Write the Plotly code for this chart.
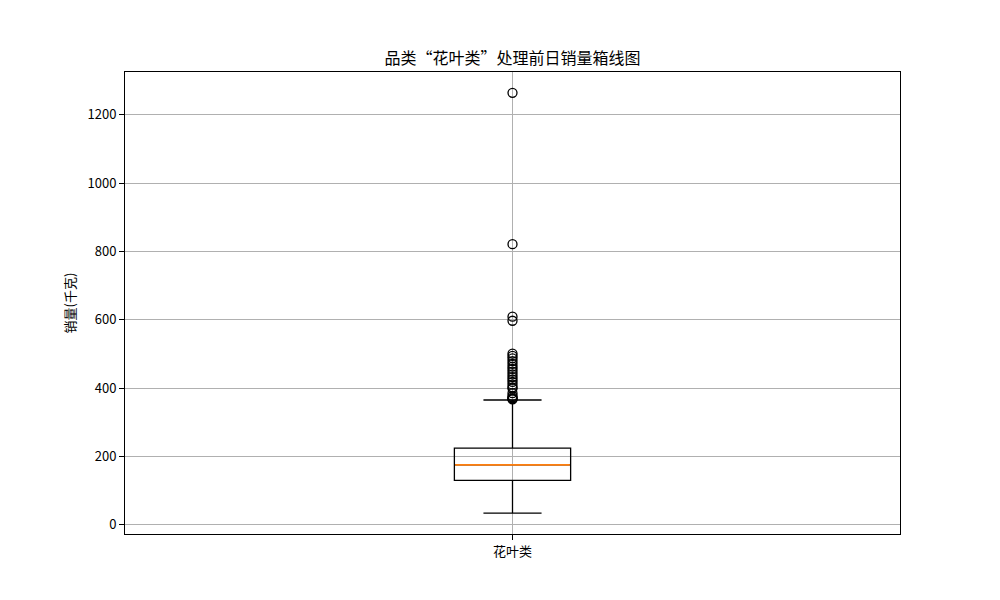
import plotly.graph_objects as go

category = "花叶类"
q1 = 130.0
median = 175.0
q3 = 224.0
lower_fence = 34.0
upper_fence = 365.0
outliers = [1264, 821, 609, 597, 501, 494, 487, 479, 471, 463, 456, 448, 440,
            432, 425, 418, 410, 402, 399, 385, 377, 373, 370, 368, 367]

title = "品类“花叶类”处理前日销量箱线图"
y_title = "销量(千克)"
y_ticks = [0, 200, 400, 600, 800, 1000, 1200]

box_width = 0.15
font_family = "SimHei, Noto Sans CJK SC, DejaVu Sans, sans-serif"

fig = go.Figure()
fig.add_trace(go.Box(
    x=[0], q1=[q1], median=[median], q3=[q3],
    lowerfence=[lower_fence], upperfence=[upper_fence],
    width=box_width, whiskerwidth=0.5,
    line=dict(color="black", width=1.3),
    fillcolor="rgba(0,0,0,0)", boxpoints=False, showlegend=False,
    hoverinfo="skip",
))
fig.add_trace(go.Scatter(
    x=[-box_width / 2 + 0.001, box_width / 2 - 0.001], y=[median, median], mode="lines",
    line=dict(color="#ff7f0e", width=1.8), showlegend=False, hoverinfo="skip",
))
fig.add_trace(go.Scatter(
    x=[0] * len(outliers), y=outliers, mode="markers",
    marker=dict(symbol="circle-open", size=9, color="black", line=dict(width=1.3)),
    showlegend=False,
))

fig.update_layout(
    width=1000, height=600,
    margin=dict(l=125, r=100, t=72, b=66),
    paper_bgcolor="white", plot_bgcolor="white",
    font=dict(family=font_family, size=13, color="black"),
    title=dict(text=title, x=0.5125, xanchor="center", y=0.903, yanchor="middle",
               font=dict(size=16, family=font_family)),
)
fig.update_xaxes(
    range=[-0.5, 0.5], tickvals=[0], ticktext=[category],
    showgrid=True, gridcolor="#b0b0b0", gridwidth=0.8,
    showline=True, linecolor="black", linewidth=1, mirror=True,
    ticks="outside", ticklen=5, tickcolor="black", zeroline=False,
    tickfont=dict(size=13),
)
fig.update_yaxes(
    range=[-27.2, 1325.1], tickvals=y_ticks,
    title=dict(text=y_title, standoff=8, font=dict(size=13)),
    showgrid=True, gridcolor="#b0b0b0", gridwidth=0.8,
    showline=True, linecolor="black", linewidth=1, mirror=True,
    ticks="outside", ticklen=5, tickcolor="black", zeroline=False,
    tickfont=dict(size=13),
)

fig.write_html("out.html")
